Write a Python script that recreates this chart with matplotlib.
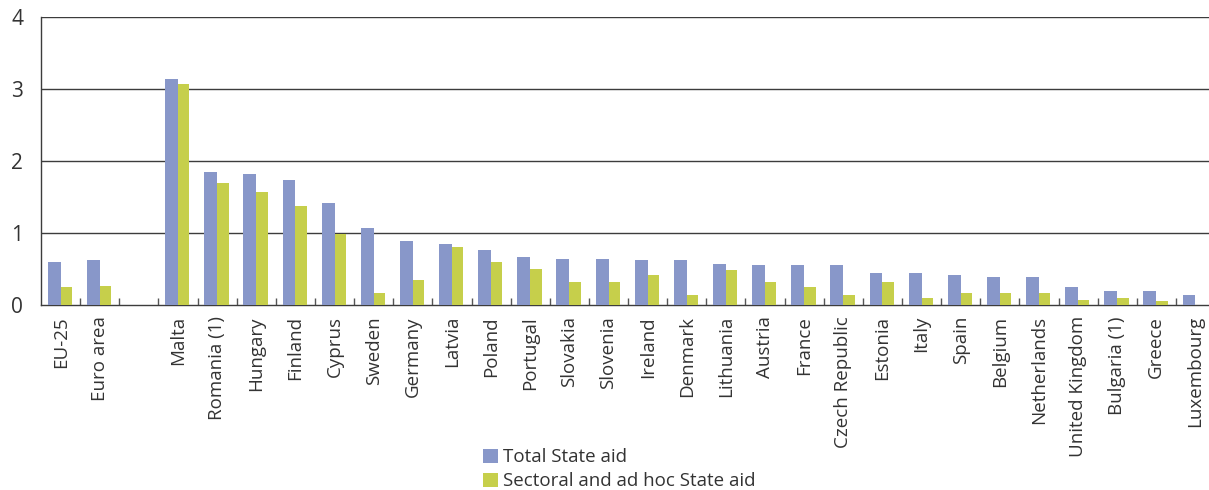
import matplotlib
matplotlib.use("Agg")
import matplotlib.pyplot as plt
from matplotlib.patches import Patch
import numpy as np

plt.rcParams["font.family"] = ["Open Sans", "DejaVu Sans"]

countries = ["EU-25", "Euro area", "",
             "Malta", "Romania (1)", "Hungary", "Finland", "Cyprus", "Sweden",
             "Germany", "Latvia", "Poland", "Portugal", "Slovakia", "Slovenia",
             "Ireland", "Denmark", "Lithuania", "Austria", "France",
             "Czech Republic", "Estonia", "Italy", "Spain", "Belgium",
             "Netherlands", "United Kingdom", "Bulgaria (1)", "Greece",
             "Luxembourg"]

# % of GDP; the blank slot separates the aggregates from member states
total_aid = [0.60, 0.63, np.nan,
             3.14, 1.85, 1.82, 1.73, 1.42, 1.07,
             0.89, 0.85, 0.77, 0.67, 0.64, 0.64,
             0.63, 0.63, 0.57, 0.55, 0.55,
             0.55, 0.45, 0.45, 0.42, 0.39,
             0.39, 0.25, 0.20, 0.20,
             0.14]
sectoral_aid = [0.25, 0.27, np.nan,
                3.07, 1.70, 1.57, 1.38, 0.98, 0.17,
                0.35, 0.80, 0.60, 0.50, 0.32, 0.32,
                0.42, 0.14, 0.48, 0.32, 0.25,
                0.14, 0.32, 0.10, 0.17, 0.17,
                0.17, 0.07, 0.10, 0.05,
                0.0]

blue = "#8897c9"
green = "#c6cf4b"
text_col = "#333333"

fig = plt.figure(figsize=(12.09, 4.90), dpi=100)
ax = fig.add_axes([0.034, 0.3776, 0.971, 0.5877])

x = np.arange(len(countries))
ax.bar(x - 0.33, total_aid, width=0.33, align="edge", color=blue, zorder=3)
ax.bar(x, sectoral_aid, width=0.29, align="edge", color=green, zorder=3)

ax.set_xlim(-0.5, len(countries) - 0.5)
ax.set_ylim(0, 4)
ax.set_yticks([0, 1, 2, 3, 4])
ax.tick_params(axis="y", length=0, pad=13, labelsize=15, labelcolor=text_col)

for yv in [1, 2, 3, 4]:
    ax.axhline(yv, color="#3c3c3c", lw=1.0, zorder=1)

ax.set_xticks(x)
ax.set_xticklabels(countries, rotation=90, fontsize=13.5, color=text_col)
ax.tick_params(axis="x", which="major", length=0, pad=8)
ax.set_xticks(np.arange(0.5, len(countries) - 0.5), minor=True)
ax.tick_params(axis="x", which="minor", direction="in", length=5,
               width=1, color="#555555")

for side in ["top", "right"]:
    ax.spines[side].set_visible(False)
for side in ["left", "bottom"]:
    ax.spines[side].set_color("#3c3c3c")
    ax.spines[side].set_linewidth(1.0)

handles = [Patch(facecolor=blue, label="Total State aid"),
           Patch(facecolor=green, label="Sectoral and ad hoc State aid")]
fig.legend(handles=handles, loc="upper left", bbox_to_anchor=(0.392, 0.104),
           frameon=False, fontsize=13.5, handlelength=0.8, handleheight=0.8,
           handletextpad=0.25, labelspacing=0.32, borderpad=0,
           labelcolor=text_col)

fig.savefig("out.png", dpi=100)
